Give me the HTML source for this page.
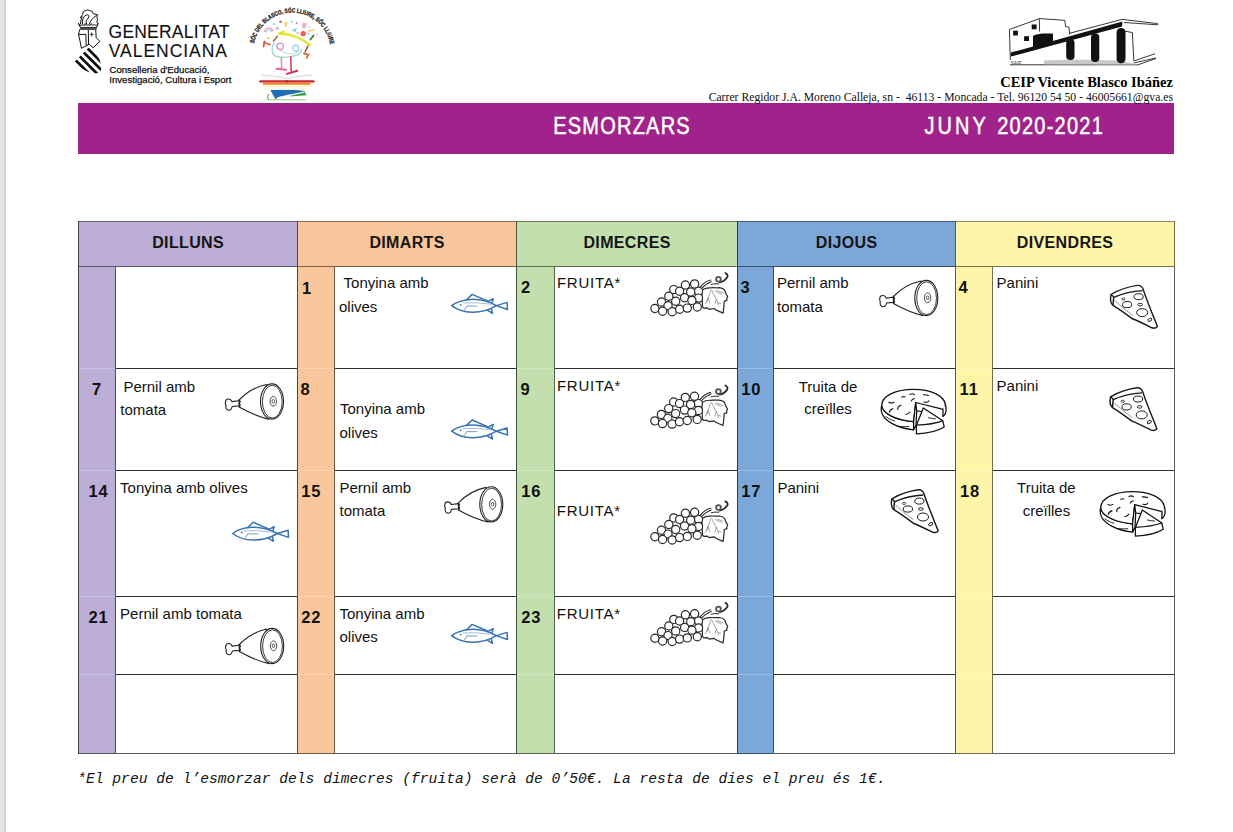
<!DOCTYPE html>
<html><head><meta charset="utf-8"><title>Esmorzars Juny</title>
<style>html,body{margin:0;padding:0;width:1233px;height:832px;overflow:hidden;background:#fff}svg{display:block}</style>
</head><body>
<svg width="1233" height="832" viewBox="0 0 1233 832">
<defs>
<symbol id="fish" viewBox="0 0 58 21" overflow="visible">
 <g fill="none" stroke="#3a73b2" stroke-width="1.5" stroke-linejoin="round" stroke-linecap="round">
  <path d="M0.6,12 C6,8 12,6.2 20,5.8 C28,5.5 36,7 45.4,12 C38,16.5 30,18.8 21,18.6 C13,18.4 6,16 0.6,12 Z" fill="#fff"/>
  <path d="M15.6,6.2 L21.1,0.8 L36.5,7.4"/>
  <path d="M37.3,7.6 L42.2,5.1 L40.9,9.4"/>
  <path d="M36.3,16.6 L41.5,19.8 L40.4,15.6"/>
  <path d="M45.4,12 L56.1,8.8 L56.5,15.9 Z"/>
  <path d="M13.6,16.2 L15.6,12.4 L25.9,12.4" stroke="#7a9cc6" stroke-width="1"/>
  <path d="M12.3,9.3 Q26,8.4 39.5,10.6" stroke="#a7bcd8" stroke-width="1"/>
 </g>
 <circle cx="9.7" cy="11" r="0.9" fill="#3b74b3"/>
</symbol>

<symbol id="grapes" viewBox="0 0 78 43" overflow="visible">
 <g fill="none" stroke="#2a2a2a" stroke-width="1.2" stroke-linejoin="round" stroke-linecap="round">
  <path d="M51.6,17.4 C54,16 57,15 60,15.2 C63,14.6 66,15.4 69,15 C71.5,15.3 73.5,16.2 74.5,17.8 L75.9,21.6 L77.4,23.9 L76.3,26.2 L76.7,27.7 L74,28.5 L73.6,33.9 L72.8,40.4 L66.6,37.7 L63.6,35.8 L58.9,36.6 L56.6,35.1 L53.5,35.4 L52.2,33.9 Z" fill="#fff"/>
  <path d="M60.5,17.7 L56.6,29.3 M57.8,25.5 L55.3,31 M57.8,25.5 L59.6,30.5 M61.5,17.7 L67.4,29.3 L68.2,32.6 M66,26.5 L64.8,31 M68,30 L70.5,31 M65,18.5 L71,21.5 M67,18 L73,20.5" stroke="#888" stroke-width="0.75"/>
  <path d="M49.7,14.6 C53,10.5 57,8 60.5,7.3 M50.5,16.4 C54,12.5 57.5,10.2 60.9,9" stroke-width="1.1"/>
  <path d="M60.9,11.8 C63.5,11 66,11 68.4,11.2" stroke-width="1"/>
  <path d="M69.5,9.6 C72,9.2 75,7.2 77,4.5 C77.8,2.8 76.8,1 75.1,0.4" stroke-width="1.8"/>
  <circle cx="68.2" cy="6.5" r="2.4" stroke="#555" stroke-width="1.8"/>
 </g>
 <g fill="#fff" stroke="#2a2a2a" stroke-width="1.2">
  <circle cx="48.2" cy="18.5" r="4.1"/>
  <circle cx="44.3" cy="11.2" r="4.1"/>
  <circle cx="35.1" cy="12.3" r="4.1"/>
  <circle cx="23.5" cy="16.9" r="4.1"/>
  <circle cx="48.2" cy="25.4" r="4.1"/>
  <circle cx="40.4" cy="19.3" r="4.1"/>
  <circle cx="29.3" cy="18.5" r="4.1"/>
  <circle cx="18.5" cy="23.5" r="4.1"/>
  <circle cx="11.2" cy="29.3" r="4.1"/>
  <circle cx="34.3" cy="25.0" r="4.1"/>
  <circle cx="41.6" cy="27.7" r="4.1"/>
  <circle cx="25.4" cy="28.5" r="4.1"/>
  <circle cx="47.0" cy="34.3" r="4.1"/>
  <circle cx="17.7" cy="33.1" r="4.1"/>
  <circle cx="4.6" cy="35.8" r="4.1"/>
  <circle cx="12.3" cy="38.5" r="4.1"/>
  <circle cx="21.9" cy="39.0" r="4.1"/>
  <circle cx="29.3" cy="36.6" r="4.1"/>
  <circle cx="37.0" cy="35.4" r="4.1"/>
 </g>
</symbol>

<symbol id="ham" viewBox="0 0 59 36" overflow="visible">
 <g fill="#fff" stroke="#222" stroke-width="1.1" stroke-linejoin="round">
  <path d="M14.9,16.2 C22,9 31,3.5 42,1.2 L44,35.8 C34,33.5 23,28.5 14.9,24 Z"/>
  <path d="M14.5,17.4 L7.2,18.3 C6,14.6 1,15 0.9,18.2 C0.3,19.8 0.8,21.3 1.4,22 C0.6,24 1.5,27 4.2,27 C5.6,27 7,25.8 7.4,23.2 L14.5,22.6 Z"/>
  <path d="M13.6,16.4 L15.6,18.4 L14.1,20 L15.6,22 L14.1,24.2" fill="none"/>
  <ellipse cx="47.3" cy="18.2" rx="11.5" ry="17.6"/>
  <ellipse cx="47.6" cy="18.4" rx="9.9" ry="16.4" stroke-width="0.9"/>
  <ellipse cx="48.6" cy="18" rx="3.2" ry="4.9" stroke-width="0.8"/>
  <ellipse cx="48.6" cy="18" rx="1.3" ry="1.9" stroke-width="0.7"/>
 </g>
</symbol>

<symbol id="pizza" viewBox="0 0 48 44" overflow="visible">
 <g fill="#fff" stroke="#1a1a1a" stroke-width="1.45" stroke-linejoin="round">
  <path d="M1.2,9.7 C9,5 18,2 27.7,0.6 C30.5,0.4 32.5,2 33.5,4.8 C37,16 43,30 47.6,41.6 C46.5,43.5 44,43.6 42,43 C34,39 28,36 22.7,34 C16,29 9,24 3.2,20.5 C0.8,18.5 0.3,14 1.2,9.7 Z"/>
  <path d="M3.9,12.6 C13,8.5 23,6.2 32.8,5.8" fill="none"/>
  <path d="M1.2,9.7 C2.6,10.6 3.6,11.6 3.9,12.6 C3.6,15 3.4,18 3.2,20.5" fill="none"/>
  <path d="M5,16 C12,22 18,27 22.7,30.5" fill="none" stroke-width="0.7" stroke="#666"/>
  <ellipse cx="28.8" cy="11.9" rx="4.6" ry="3" stroke-width="1"/>
  <ellipse cx="17.3" cy="19.8" rx="4.6" ry="3.1" stroke-width="1"/>
  <ellipse cx="32.4" cy="27.8" rx="5.5" ry="4" stroke-width="1"/>
  <ellipse cx="30.3" cy="19.8" rx="2.4" ry="1.3" stroke-width="0.9"/>
  <ellipse cx="40" cy="35" rx="2.2" ry="1.3" stroke-width="0.9" transform="rotate(-30 40 35)"/>
  <ellipse cx="13.5" cy="14.2" rx="1.6" ry="1.1" stroke-width="0.8"/>
 </g>
</symbol>

<symbol id="tort" viewBox="0 0 66 45" overflow="visible">
 <g fill="#fff" stroke="#111" stroke-width="1.25" stroke-linejoin="round">
  <path d="M1.4,15.9 C0.4,18.5 0.6,22 2.2,25.6 C5,31.5 16,39 33.2,40.7 L33.2,32.4 C15,31 1.4,24 1.4,15.9 Z"/>
  <path d="M35.3,13.3 L62.7,20.2 C64.5,18.8 65.2,17 64.9,14.8 C63,6 50,0.2 33.2,0.2 C15,0.2 1.4,7 1.4,15.9 C1.4,24 15,31 33.2,32.4 Z"/>
  <path d="M62.7,20.2 L62.4,27.4 C64.8,25.5 65.9,23 65.7,19.8 C65.6,17.5 65.4,16 64.9,14.8" />
  <path d="M35.3,13.3 L33.2,32.4 L33.2,40.7 L35.6,36 L36.3,21.6 Z"/>
  <path d="M36.3,21.6 L41.5,22.3"/>
  <path d="M42.9,18.7 L62.4,31.6 L63.8,37.8 C58,41.5 48,44.2 36,44.7 L36,36 Z"/>
  <path d="M36,36 C46,35.5 56,34 62.4,31.6" fill="none"/>
 </g>
 <g fill="none" stroke="#111" stroke-width="1.1" stroke-linecap="round">
  <path d="M8.5,13 C10,14 12,14 13.5,13"/>
  <path d="M21.4,8 C22.5,7.3 24,7.3 24.6,7.8"/>
  <path d="M29.6,5.2 C31,4.4 33,4.5 34,5.4"/>
  <path d="M43,5.5 C45,5.4 47,5.7 48,6.3"/>
  <path d="M31,11.7 C31.5,10.3 33,9.5 34,9.6"/>
  <path d="M43.5,12.8 C46,13.5 48,13 48.5,11.5"/>
  <path d="M17.5,20.3 C17,18.5 18,16.8 20.6,16"/>
  <path d="M8.9,23 C9.2,21 10.6,20 12.6,19.5"/>
  <path d="M25.4,25.3 C27,25 28.5,24.2 29.6,22.8"/>
  <path d="M5.5,27.5 C8.5,29.7 11.5,31 14.3,31.8" stroke-width="0.9"/>
  <path d="M17.5,37 C21,37.6 24,37.6 28.3,37.3" stroke-width="0.9"/>
  <path d="M48,28.6 C51,29.2 53,29.5 55,29.6" stroke-width="0.9"/>
 </g>
</symbol>
</defs>
<rect x="0" y="0" width="4" height="832" fill="#e4e4e4"/><rect x="4" y="0" width="1" height="832" fill="#d9d9d9"/><rect x="5" y="0" width="1" height="832" fill="#cdcdcd"/>
<rect x="78" y="221" width="219" height="45" fill="#bcaed6"/>
<rect x="78" y="266" width="37" height="487" fill="#bcaed6"/>
<rect x="297" y="221" width="219" height="45" fill="#f9c69b"/>
<rect x="297" y="266" width="37" height="487" fill="#f9c69b"/>
<rect x="516" y="221" width="221" height="45" fill="#c2dfad"/>
<rect x="516" y="266" width="38" height="487" fill="#c2dfad"/>
<rect x="737" y="221" width="218" height="45" fill="#7ba7d9"/>
<rect x="737" y="266" width="36" height="487" fill="#7ba7d9"/>
<rect x="955" y="221" width="219" height="45" fill="#fff5a9"/>
<rect x="955" y="266" width="37" height="487" fill="#fff5a9"/>
<rect x="79" y="368" width="36" height="1" fill="#ffffff" fill-opacity="0.25"/>
<rect x="79" y="470" width="36" height="1" fill="#ffffff" fill-opacity="0.25"/>
<rect x="79" y="596" width="36" height="1" fill="#ffffff" fill-opacity="0.25"/>
<rect x="79" y="674" width="36" height="1" fill="#ffffff" fill-opacity="0.25"/>
<rect x="298" y="368" width="36" height="1" fill="#ffffff" fill-opacity="0.25"/>
<rect x="298" y="470" width="36" height="1" fill="#ffffff" fill-opacity="0.25"/>
<rect x="298" y="596" width="36" height="1" fill="#ffffff" fill-opacity="0.25"/>
<rect x="298" y="674" width="36" height="1" fill="#ffffff" fill-opacity="0.25"/>
<rect x="517" y="368" width="37" height="1" fill="#ffffff" fill-opacity="0.25"/>
<rect x="517" y="470" width="37" height="1" fill="#ffffff" fill-opacity="0.25"/>
<rect x="517" y="596" width="37" height="1" fill="#ffffff" fill-opacity="0.25"/>
<rect x="517" y="674" width="37" height="1" fill="#ffffff" fill-opacity="0.25"/>
<rect x="738" y="368" width="35" height="1" fill="#ffffff" fill-opacity="0.25"/>
<rect x="738" y="470" width="35" height="1" fill="#ffffff" fill-opacity="0.25"/>
<rect x="738" y="596" width="35" height="1" fill="#ffffff" fill-opacity="0.25"/>
<rect x="738" y="674" width="35" height="1" fill="#ffffff" fill-opacity="0.25"/>
<rect x="956" y="368" width="36" height="1" fill="#ffffff" fill-opacity="0.25"/>
<rect x="956" y="470" width="36" height="1" fill="#ffffff" fill-opacity="0.25"/>
<rect x="956" y="596" width="36" height="1" fill="#ffffff" fill-opacity="0.25"/>
<rect x="956" y="674" width="36" height="1" fill="#ffffff" fill-opacity="0.25"/>
<rect x="115" y="368" width="182" height="1" fill="#2e2e2e"/>
<rect x="115" y="470" width="182" height="1" fill="#2e2e2e"/>
<rect x="115" y="596" width="182" height="1" fill="#2e2e2e"/>
<rect x="115" y="674" width="182" height="1" fill="#2e2e2e"/>
<rect x="334" y="368" width="182" height="1" fill="#2e2e2e"/>
<rect x="334" y="470" width="182" height="1" fill="#2e2e2e"/>
<rect x="334" y="596" width="182" height="1" fill="#2e2e2e"/>
<rect x="334" y="674" width="182" height="1" fill="#2e2e2e"/>
<rect x="554" y="368" width="183" height="1" fill="#2e2e2e"/>
<rect x="554" y="470" width="183" height="1" fill="#2e2e2e"/>
<rect x="554" y="596" width="183" height="1" fill="#2e2e2e"/>
<rect x="554" y="674" width="183" height="1" fill="#2e2e2e"/>
<rect x="773" y="368" width="182" height="1" fill="#2e2e2e"/>
<rect x="773" y="470" width="182" height="1" fill="#2e2e2e"/>
<rect x="773" y="596" width="182" height="1" fill="#2e2e2e"/>
<rect x="773" y="674" width="182" height="1" fill="#2e2e2e"/>
<rect x="992" y="368" width="182" height="1" fill="#2e2e2e"/>
<rect x="992" y="470" width="182" height="1" fill="#2e2e2e"/>
<rect x="992" y="596" width="182" height="1" fill="#2e2e2e"/>
<rect x="992" y="674" width="182" height="1" fill="#2e2e2e"/>
<rect x="78" y="221" width="220" height="1" fill="#675f75"/>
<rect x="78" y="266" width="220" height="1" fill="#5a5366"/>
<rect x="78" y="753" width="37" height="1" fill="#544e60"/>
<rect x="115" y="753" width="182" height="1" fill="#5a5a5a"/>
<rect x="297" y="221" width="220" height="1" fill="#886c55"/>
<rect x="297" y="266" width="220" height="1" fill="#775f4a"/>
<rect x="297" y="753" width="37" height="1" fill="#705945"/>
<rect x="334" y="753" width="182" height="1" fill="#5a5a5a"/>
<rect x="516" y="221" width="222" height="1" fill="#6a7a5f"/>
<rect x="516" y="266" width="222" height="1" fill="#5d6b53"/>
<rect x="516" y="753" width="38" height="1" fill="#57644d"/>
<rect x="554" y="753" width="183" height="1" fill="#5a5a5a"/>
<rect x="737" y="221" width="219" height="1" fill="#435b77"/>
<rect x="737" y="266" width="219" height="1" fill="#3b5068"/>
<rect x="737" y="753" width="36" height="1" fill="#374b61"/>
<rect x="773" y="753" width="182" height="1" fill="#5a5a5a"/>
<rect x="955" y="221" width="220" height="1" fill="#8c865c"/>
<rect x="955" y="266" width="220" height="1" fill="#7a7551"/>
<rect x="955" y="753" width="37" height="1" fill="#726e4c"/>
<rect x="992" y="753" width="182" height="1" fill="#5a5a5a"/>
<rect x="78" y="221" width="1" height="533" fill="#433e4d"/>
<rect x="115" y="266" width="1" height="487" fill="#544e60"/>
<rect x="297" y="221" width="1" height="533" fill="#594737"/>
<rect x="334" y="266" width="1" height="487" fill="#705945"/>
<rect x="516" y="221" width="1" height="533" fill="#45503e"/>
<rect x="554" y="266" width="1" height="487" fill="#57644d"/>
<rect x="737" y="221" width="1" height="533" fill="#2c3c4e"/>
<rect x="773" y="266" width="1" height="487" fill="#374b61"/>
<rect x="955" y="221" width="1" height="533" fill="#5b583c"/>
<rect x="992" y="266" width="1" height="487" fill="#726e4c"/>
<rect x="1174" y="221" width="1" height="46" fill="#726e4c"/>
<rect x="1174" y="267" width="1" height="487" fill="#5a5a5a"/>
<text x="188.1" y="248.1" font-family="Liberation Sans" font-size="16" font-weight="bold" fill="#151515" text-anchor="middle" letter-spacing="0.35">DILLUNS</text>
<text x="407.1" y="248.1" font-family="Liberation Sans" font-size="16" font-weight="bold" fill="#151515" text-anchor="middle" letter-spacing="0.35">DIMARTS</text>
<text x="627.1" y="248.1" font-family="Liberation Sans" font-size="16" font-weight="bold" fill="#151515" text-anchor="middle" letter-spacing="0.35">DIMECRES</text>
<text x="846.6" y="248.1" font-family="Liberation Sans" font-size="16" font-weight="bold" fill="#151515" text-anchor="middle" letter-spacing="0.35">DIJOUS</text>
<text x="1065.1" y="248.1" font-family="Liberation Sans" font-size="16" font-weight="bold" fill="#151515" text-anchor="middle" letter-spacing="0.35">DIVENDRES</text>
<text x="301.9" y="293.9" font-family="Liberation Sans" font-size="16.5" font-weight="bold" fill="#111" text-anchor="start" >1</text>
<text x="520.9" y="293.4" font-family="Liberation Sans" font-size="16.5" font-weight="bold" fill="#111" text-anchor="start" >2</text>
<text x="740.4" y="293.4" font-family="Liberation Sans" font-size="16.5" font-weight="bold" fill="#111" text-anchor="start" >3</text>
<text x="958.4" y="293.4" font-family="Liberation Sans" font-size="16.5" font-weight="bold" fill="#111" text-anchor="start" >4</text>
<text x="91.9" y="394.9" font-family="Liberation Sans" font-size="16.5" font-weight="bold" fill="#111" text-anchor="start" >7</text>
<text x="300.4" y="394.9" font-family="Liberation Sans" font-size="16.5" font-weight="bold" fill="#111" text-anchor="start" >8</text>
<text x="520.4" y="394.9" font-family="Liberation Sans" font-size="16.5" font-weight="bold" fill="#111" text-anchor="start" >9</text>
<text x="741.2" y="394.9" font-family="Liberation Sans" font-size="16.5" font-weight="bold" fill="#111" text-anchor="start" letter-spacing="0.9">10</text>
<text x="959.5" y="394.9" font-family="Liberation Sans" font-size="16.5" font-weight="bold" fill="#111" text-anchor="start" letter-spacing="0.9">11</text>
<text x="88.4" y="497.4" font-family="Liberation Sans" font-size="16.5" font-weight="bold" fill="#111" text-anchor="start" letter-spacing="0.9">14</text>
<text x="301.3" y="497.4" font-family="Liberation Sans" font-size="16.5" font-weight="bold" fill="#111" text-anchor="start" letter-spacing="0.9">15</text>
<text x="521.2" y="497.4" font-family="Liberation Sans" font-size="16.5" font-weight="bold" fill="#111" text-anchor="start" letter-spacing="0.9">16</text>
<text x="741.3000000000001" y="497.4" font-family="Liberation Sans" font-size="16.5" font-weight="bold" fill="#111" text-anchor="start" letter-spacing="0.9">17</text>
<text x="960.0" y="497.4" font-family="Liberation Sans" font-size="16.5" font-weight="bold" fill="#111" text-anchor="start" letter-spacing="0.9">18</text>
<text x="88.4" y="622.9" font-family="Liberation Sans" font-size="16.5" font-weight="bold" fill="#111" text-anchor="start" letter-spacing="0.9">21</text>
<text x="301.3" y="622.9" font-family="Liberation Sans" font-size="16.5" font-weight="bold" fill="#111" text-anchor="start" letter-spacing="0.9">22</text>
<text x="521.2" y="622.9" font-family="Liberation Sans" font-size="16.5" font-weight="bold" fill="#111" text-anchor="start" letter-spacing="0.9">23</text>
<text x="343.6" y="288" font-family="Liberation Sans" font-size="15" font-weight="normal" fill="#111" text-anchor="start" >Tonyina amb</text>
<text x="339" y="312" font-family="Liberation Sans" font-size="15" font-weight="normal" fill="#111" text-anchor="start" >olives</text>
<text x="556.9" y="288" font-family="Liberation Sans" font-size="15" font-weight="normal" fill="#111" text-anchor="start" letter-spacing="0.75">FRUITA*</text>
<text x="777" y="288" font-family="Liberation Sans" font-size="15" font-weight="normal" fill="#111" text-anchor="start" >Pernil amb</text>
<text x="777" y="312" font-family="Liberation Sans" font-size="15" font-weight="normal" fill="#111" text-anchor="start" >tomata</text>
<text x="996.6" y="288" font-family="Liberation Sans" font-size="15" font-weight="normal" fill="#111" text-anchor="start" >Panini</text>
<text x="123.4" y="391.5" font-family="Liberation Sans" font-size="15" font-weight="normal" fill="#111" text-anchor="start" >Pernil amb</text>
<text x="120.3" y="414.5" font-family="Liberation Sans" font-size="15" font-weight="normal" fill="#111" text-anchor="start" >tomata</text>
<text x="340" y="414.4" font-family="Liberation Sans" font-size="15" font-weight="normal" fill="#111" text-anchor="start" >Tonyina amb</text>
<text x="339.5" y="437.5" font-family="Liberation Sans" font-size="15" font-weight="normal" fill="#111" text-anchor="start" >olives</text>
<text x="556.9" y="391.3" font-family="Liberation Sans" font-size="15" font-weight="normal" fill="#111" text-anchor="start" letter-spacing="0.75">FRUITA*</text>
<text x="828" y="391.6" font-family="Liberation Sans" font-size="15" font-weight="normal" fill="#111" text-anchor="middle" >Truita de</text>
<text x="828" y="414" font-family="Liberation Sans" font-size="15" font-weight="normal" fill="#111" text-anchor="middle" >creïlles</text>
<text x="996.6" y="391.3" font-family="Liberation Sans" font-size="15" font-weight="normal" fill="#111" text-anchor="start" >Panini</text>
<text x="120.1" y="493.3" font-family="Liberation Sans" font-size="15" font-weight="normal" fill="#111" text-anchor="start" >Tonyina amb olives</text>
<text x="339.5" y="493.3" font-family="Liberation Sans" font-size="15" font-weight="normal" fill="#111" text-anchor="start" >Pernil amb</text>
<text x="339.5" y="515.8" font-family="Liberation Sans" font-size="15" font-weight="normal" fill="#111" text-anchor="start" >tomata</text>
<text x="556.8" y="516" font-family="Liberation Sans" font-size="15" font-weight="normal" fill="#111" text-anchor="start" letter-spacing="0.75">FRUITA*</text>
<text x="777.4" y="493.3" font-family="Liberation Sans" font-size="15" font-weight="normal" fill="#111" text-anchor="start" >Panini</text>
<text x="1046.4" y="493.2" font-family="Liberation Sans" font-size="15" font-weight="normal" fill="#111" text-anchor="middle" >Truita de</text>
<text x="1046.4" y="516.1" font-family="Liberation Sans" font-size="15" font-weight="normal" fill="#111" text-anchor="middle" >creïlles</text>
<text x="120.1" y="619.3" font-family="Liberation Sans" font-size="15" font-weight="normal" fill="#111" text-anchor="start" >Pernil amb tomata</text>
<text x="339.5" y="619.3" font-family="Liberation Sans" font-size="15" font-weight="normal" fill="#111" text-anchor="start" >Tonyina amb</text>
<text x="339.5" y="641.6" font-family="Liberation Sans" font-size="15" font-weight="normal" fill="#111" text-anchor="start" >olives</text>
<text x="556.8" y="619.3" font-family="Liberation Sans" font-size="15" font-weight="normal" fill="#111" text-anchor="start" letter-spacing="0.75">FRUITA*</text>
<use href="#fish" x="451" y="293.6" width="58" height="21"/>
<use href="#grapes" x="650.3" y="272.7" width="78" height="43"/>
<use href="#ham" x="879" y="279.8" width="59" height="36"/>
<use href="#pizza" x="1109.8" y="284.8" width="48" height="44"/>
<use href="#ham" x="224.7" y="383.3" width="59" height="36"/>
<use href="#fish" x="451" y="419.2" width="58" height="21"/>
<use href="#grapes" x="650.2" y="385.1" width="78" height="43"/>
<use href="#tort" x="880.4" y="389.2" width="66" height="45"/>
<use href="#pizza" x="1109.3" y="387.1" width="48" height="44"/>
<use href="#fish" x="232" y="521.5" width="58" height="21"/>
<use href="#ham" x="444" y="486.2" width="59" height="36"/>
<use href="#grapes" x="650.3" y="501" width="78" height="43"/>
<use href="#pizza" x="890.6" y="489.2" width="48" height="44"/>
<use href="#tort" x="1099.4" y="491.4" width="66" height="45"/>
<use href="#ham" x="224.9" y="627.8" width="59" height="36"/>
<use href="#fish" x="451" y="623.6" width="58" height="21"/>
<use href="#grapes" x="650.3" y="602.5" width="78" height="43"/>
<rect x="78" y="103" width="1096" height="51" fill="#a0228b"/>
<g transform="translate(553.2,134) scale(0.85,1)"><text x="0" y="0" font-family="Liberation Sans" font-size="23.5" fill="#fff" stroke="#fff" stroke-width="0.5" letter-spacing="1.47">ESMORZARS</text></g>
<g transform="translate(924.5,134) scale(0.85,1)"><text x="0" y="0" font-family="Liberation Sans" font-size="23.5" fill="#fff" stroke="#fff" stroke-width="0.5"><tspan letter-spacing="3.6">JUNY </tspan><tspan letter-spacing="1.5">2020-2021</tspan></text></g>
<text x="108.6" y="38.3" font-family="Liberation Sans" font-size="17.5" font-weight="normal" fill="#111" text-anchor="start" letter-spacing="0.2" stroke="#111" stroke-width="0.1">GENERALITAT</text>
<text x="108.8" y="57.3" font-family="Liberation Sans" font-size="17.5" font-weight="normal" fill="#111" text-anchor="start" letter-spacing="0.95" stroke="#111" stroke-width="0.1">VALENCIANA</text>
<text x="109.5" y="73.2" font-family="Liberation Sans" font-size="9.6" font-weight="normal" fill="#111" text-anchor="start" stroke="#111" stroke-width="0.25">Conselleria d'Educació,</text>
<text x="109.3" y="83.4" font-family="Liberation Sans" font-size="9.6" font-weight="normal" fill="#111" text-anchor="start" stroke="#111" stroke-width="0.25">Investigació, Cultura i Esport</text>
<text x="1173" y="86.6" font-family="Liberation Serif" font-size="14.5" font-weight="bold" fill="#000" text-anchor="end" >CEIP Vicente Blasco Ibáñez</text>
<text x="1173" y="100.8" font-family="Liberation Serif" font-size="11.7" font-weight="normal" fill="#111" text-anchor="end" xml:space="preserve">Carrer Regidor J.A. Moreno Calleja, sn -  46113 - Moncada - Tel. 96120 54 50 - 46005661@gva.es</text>
<text x="77.2" y="783" font-family="Liberation Mono" font-size="14.65" font-weight="normal" fill="#111" text-anchor="start" font-style="italic">*El preu de l’esmorzar dels dimecres (fruita) serà de 0’50€. La resta de dies el preu és 1€.</text>
<!-- Generalitat coat of arms -->
<g id="gva">
 <g fill="none" stroke="#111" stroke-width="1" stroke-linejoin="round" stroke-linecap="round">
  <path d="M78.4,23.4 L80.3,27.6 L96.6,27.6 L98.2,23.4 L96.2,25.6 C95,24.5 93.5,24.5 92.5,25.6 L91.3,23.6 L90.2,25.6 C89,24.6 87.5,24.6 86.5,25.6 L85.2,23.6 L84.2,25.6 C83,24.6 81.6,24.8 80.6,25.6 Z"/>
  <path d="M80.5,24 C80.6,21 81.3,18.5 82.2,16.6 L80.3,17.8 L82.6,14.6 L83.3,11.5 L85.4,10.6 L87.8,9.9 L90.2,10.8 L92.2,11.4 L93.2,13.8 L95.6,14.2 L97.4,14.6 L96.9,17.2 L97.6,19.8 L96.8,21.6 L97.6,23.4"/>
  <path d="M82.4,24 C82,19.5 83.6,16.4 86,15.1 C87.8,14.3 89.3,15.2 88.9,16.9 C88.4,18.6 86.2,19.6 86.2,21.6 L86.6,24"/>
  <path d="M89.4,24 C90.4,20.4 93,17.6 96.2,15.6"/>
  <path d="M79.8,29.6 L78.5,34.3 C79.5,38.5 80.6,43.5 81.4,48.3 L89.3,44.1 L93,47.8 L99.9,41.4 L96.2,37.7 L95.7,29.6 Z"/>
  <path d="M78.5,34.4 L85.9,34.4 L86.2,45.2 M88.3,29.6 L88.6,44.3"/>
 </g>
 <rect x="80" y="27.9" width="16.8" height="1.5" fill="#555"/>
 <path d="M91.7,32.4 L91.7,36.5 M89.9,34.4 L93.5,34.4" stroke="#222" stroke-width="0.9"/>
 <clipPath id="shieldclip"><path d="M88.8,47.6 L74.6,61.8 C78.5,66.5 84,70.5 90,72.6 C94,73.9 98,73.6 100.2,71.5 C101.7,69.5 101.7,66 100.7,63 C99.7,58.5 96.4,53.5 91.8,49.8 Z"/></clipPath>
 <g clip-path="url(#shieldclip)" stroke="#0d0d0d" stroke-width="2.7" stroke-linecap="butt">
  <path d="M85.2,46 L108.2,69"/>
  <path d="M81.25,49.95 L104.25,72.95"/>
  <path d="M77.3,53.9 L100.3,76.9"/>
  <path d="M73.35,57.85 L96.35,80.85"/>
 </g>
</g>

<!-- Soc del Blasco logo -->
<g id="socblasco">
 <defs><path id="arcp" d="M254,43.6 A38.8,38.8 0 0 1 330.3,45"/></defs>
 <text font-family="Liberation Sans" font-weight="bold" font-size="6.2" fill="#2a2a2a" stroke="#2a2a2a" stroke-width="0.35"><textPath href="#arcp" textLength="107" lengthAdjust="spacingAndGlyphs">SÓC DEL BLASCO, SÓC LLIURE, SÓC LLIURE</textPath></text>
 <!-- confetti -->
 <path d="M264.5,32 C265,27.5 271,26.5 273,31" fill="none" stroke="#f29aa8" stroke-width="1.3"/>
 <path d="M265.8,32.5 C266.5,29.5 270.5,29 271.8,32" fill="none" stroke="#8fd0ea" stroke-width="1.1"/>
 <circle cx="273.8" cy="24.2" r="1.1" fill="#8fcfe8"/>
 <circle cx="277.5" cy="28.3" r="1.9" fill="#d0d0dc"/>
 <circle cx="280.5" cy="21.8" r="1.4" fill="#ea6a58"/>
 <path d="M284.5,22 L287.5,22 L286.6,27 L285.3,27 Z" fill="#f2c860"/>
 <circle cx="291.9" cy="21.8" r="1.3" fill="#a8dcef"/>
 <circle cx="296.7" cy="23.2" r="1.1" fill="#f08a7a"/>
 <path d="M291.5,30.5 L297,27.5 L295.5,32 Z" fill="#8ccfea"/>
 <path d="M301.5,27.5 L303,22.5 L307,23.5 L305.5,28.5 Z" fill="#e9b6c6"/>
 <circle cx="303.2" cy="33.6" r="2.7" fill="#ec5f4c"/>
 <circle cx="297.5" cy="33" r="0.9" fill="#f08a7a"/>
 <circle cx="308.5" cy="33.5" r="1" fill="#d9b0e0"/>
 <path d="M309,31 L314,29.8" stroke="#f4c870" stroke-width="1.4" stroke-linecap="round"/>
 <path d="M313.5,35.5 L310.5,39.5" stroke="#3a8a4a" stroke-width="2" stroke-linecap="round"/>
 <circle cx="316.5" cy="34.5" r="1" fill="#e0c0e8"/>
 <circle cx="268.2" cy="38.2" r="1.4" fill="#e8e070"/>
 <circle cx="309" cy="27.5" r="1.1" fill="#d8d8ec"/>
 <!-- head -->
 <path d="M274.5,42 C271.5,46 271.5,53 275,56 C280,58 292,57.5 298,54.5 C301,52.5 302,50.5 301,49" fill="none" stroke="#a6dcd6" stroke-width="1.5"/>
 <path d="M275,45 C279,50 284,53.5 290,54 C294,54.2 297,53 299,50.5" fill="none" stroke="#b5e0c0" stroke-width="1.1"/>
 <path d="M279,33.8 C289,33.5 301,38 310,45" fill="none" stroke="#e4e43c" stroke-width="2.6" stroke-linecap="round"/>
 <path d="M280,33 L284,31.6" stroke="#e4e43c" stroke-width="2.2" stroke-linecap="round"/>
 <path d="M277.5,36.2 L273.5,40.9" stroke="#b05a3a" stroke-width="1.5" stroke-linecap="round"/>
 <path d="M270,44.5 L264,42.5 M264.5,41.5 L263.5,46.5" stroke="#d8603a" stroke-width="1.8" stroke-linecap="round"/>
 <circle cx="280.2" cy="46.3" r="3.2" fill="none" stroke="#e28ad2" stroke-width="1.3"/>
 <path d="M296.5,51 C293,51.5 291.5,48 293.5,46 C296,44.2 299,45.5 298.8,48.5 C298.6,50.5 297,51.5 295,51.5" fill="none" stroke="#92d2e6" stroke-width="1.3"/>
 <path d="M307.9,46.1 L305,52" stroke="#a0503a" stroke-width="1.5" stroke-linecap="round"/>
 <path d="M304,53.5 L308.5,54.5 L306.5,58" stroke="#e06a3a" stroke-width="1.8" stroke-linecap="round" fill="none"/>
 <!-- legs -->
 <path d="M281.4,57.5 L281.6,68" stroke="#ea8ab8" stroke-width="1.6" fill="none" stroke-linecap="round"/>
 <path d="M276.5,68.8 L286,69.8" stroke="#e2669e" stroke-width="2" fill="none" stroke-linecap="round"/>
 <path d="M290.7,56.7 L291.2,71.3" stroke="#c9475c" stroke-width="1.6" fill="none" stroke-linecap="round"/>
 <path d="M287,73.9 L297.3,70.8" stroke="#cc2f4f" stroke-width="2" fill="none" stroke-linecap="round"/>
 <!-- book pages -->
 <path d="M261,75 C270,75.5 280,76.5 287,78.6 C294,76.5 303,75.5 312,75 L313,80.5 L260,80.5 Z" fill="#fafafa"/>
 <path d="M261,75 C270,75.5 280,76.5 287,78.6 C294,76.5 303,75.5 312,75" fill="none" stroke="#d4d4d4" stroke-width="0.9"/>
 <path d="M258.3,81.6 L260.5,80.3 L313.5,80.3 L315.4,81.8 L313.5,82.6 L260.5,82.6 Z" fill="#c9282f"/>
 <circle cx="287" cy="81.5" r="1.4" fill="#d81e2a"/>
 <rect x="263" y="82.6" width="47.5" height="1.3" fill="#ea6a24"/>
 <rect x="263" y="83.9" width="47.5" height="1.1" fill="#f6b23a"/>
 <rect x="263" y="85" width="47.5" height="2.4" fill="#fcf4d6"/>
 <rect x="263" y="88.8" width="47.5" height="0.7" fill="#efe6c4"/>
 <path d="M268.5,94 C267.5,96 267.5,98.5 268.8,99.6 L306,99.6" fill="none" stroke="#6bb04a" stroke-width="1.2"/>
 <path d="M292,90 L304.5,91 L306.5,95.2 L290,96.5 Z" fill="#3f9a45"/>
 <path d="M270.3,90 L292,89.9 L304.2,91.1 L277.7,97.3 L275.6,99.4 Z" fill="#1c6fb8"/>
 <path d="M277.7,97.3 L304.4,91.5 L304.8,92.6 L278.8,98.5 Z" fill="#f2f8fc"/>
 <path d="M269,99.6 L306,99.6" stroke="#cfe0c4" stroke-width="0.9"/>
</g>

<!-- School building logo -->
<g id="school">
 <g fill="none" stroke="#222" stroke-width="0.9" stroke-linejoin="round">
  <path d="M1010.3,60 L1009.4,29.5 L1039.3,18.6 L1064.8,20.3 L1065.5,26.6 L1069,27.2 L1069.7,34.5"/>
  <path d="M1039.3,18.6 L1039.6,31.5"/>
  <path d="M1069,33.4 L1122,19.4 L1157.5,23.6 L1157.8,24.8 L1124,22.5"/>
  <path d="M1122,30.5 L1132.4,32.6 L1133.8,61 L1155,53.8 M1133.8,63 L1156,58"/>
  <path d="M1010,64.8 L1138,64.8 L1156,58.5"/>
 </g>
 <path d="M1044,60.5 C1060,59.5 1090,59.5 1118,60.5 L1138,64.5 L1044,64.3 Z" fill="#c8c8c8"/>
 <rect x="1013.1" y="30.7" width="4.8" height="4.8" fill="#111"/>
 <rect x="1024.1" y="36.2" width="4.9" height="4.8" fill="#111"/>
 <rect x="1031.7" y="24.5" width="4.9" height="4.8" fill="#111"/>
 <path d="M1010.8,52.6 L1010.8,56.6 L1122,26.5 L1122.4,21.6 Z" fill="#111"/>
 <path d="M1033,48 L1033,36 C1035,34.5 1040,33.7 1044,33.5 L1053,33.5 L1053,43 Z" fill="#111"/>
 <rect x="1066.2" y="39" width="8.3" height="21" rx="4" fill="#111"/>
 <rect x="1091" y="33.5" width="8.3" height="28.4" rx="4" fill="#111"/>
 <rect x="1116.6" y="28" width="8.9" height="35.3" rx="4.3" fill="#111"/>
 <text x="1010.8" y="64.6" font-family="Liberation Sans" font-size="4.6" font-weight="bold" fill="#666">SAIE</text>
</g>

</svg>
</body></html>
